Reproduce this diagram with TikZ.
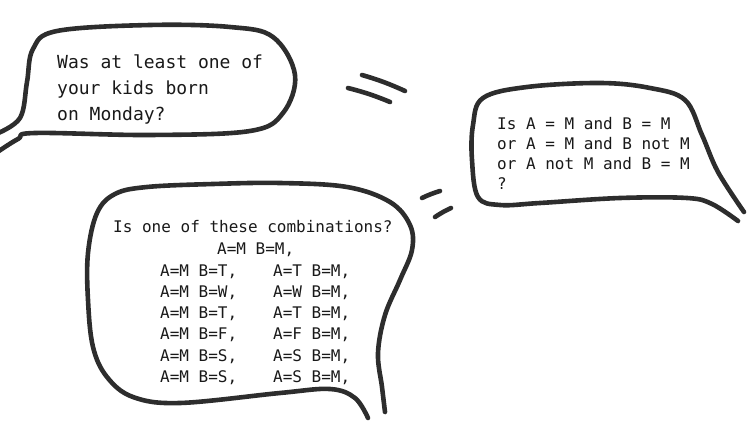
\documentclass[tikz,border=0pt]{standalone}
\usepackage{fontspec}
\setmonofont{DejaVu Sans Mono}

\definecolor{ink}{RGB}{45,45,45}
\definecolor{txt}{RGB}{25,25,25}

\begin{document}
\begin{tikzpicture}[
    x=1pt, y=-1pt,
    bubble/.style={draw=ink, line width=4.6pt, line cap=round, line join=round},
    tick/.style={draw=ink, line width=4.6pt, line cap=round},
    bigsay/.style={font=\ttfamily\fontsize{18}{26}\selectfont, text=txt, align=left, inner sep=0pt, anchor=base west},
    say/.style={font=\ttfamily\fontsize{16}{19.8}\selectfont, text=txt, align=left, inner sep=0pt, anchor=base west},
    row/.style={font=\ttfamily\fontsize{16}{21.2}\selectfont, text=txt, inner sep=0pt, anchor=base west},
]
\useasboundingbox (0,0) rectangle (750,422);

% Question bubble (top left)
\draw[bubble] plot[smooth, tension=0.6] coordinates {
  (-4,134) (20,118) (27,82) (33,49) (57,31) (150,25) (230,27) (273,37)
  (295,75) (283,113) (250,131) (150,135) (35,133) (18,139) (-4,153)};
% base anchor sits on the last line
\node[bigsay] (question) at (57,121) {Was at least one of\\your kids born\\on Monday?};

% "equals" marks
\draw[tick] (362,75) to[bend left=4] (405,91);
\draw[tick] (348,88) to[bend left=4] (390,102);
\draw[tick] (422,198) to[bend left=4] (440,191);
\draw[tick] (435,217) to[bend left=4] (451,208);

% Logic bubble (right)
\draw[bubble] plot[smooth, tension=0.6] coordinates {
  (738,221) (712,204) (687,198) (620,198) (540,203) (500,205) (478,197)
  (472,160) (473,125) (483,98) (527,87) (600,83) (650,88) (685,100)
  (702,135) (718,172) (744,212)};
\node[say] (logic) at (497,189.4) {Is A = M and B = M\\or A = M and B not M\\or A not M and B = M\\?};

% Combinations bubble (bottom)
\draw[bubble] plot[smooth, tension=0.6] coordinates {
  (368,418) (355,398) (330,389) (280,393) (180,403) (133,397) (107,377)
  (93,347) (88,300) (88,253) (97,213) (115,194) (147,187) (213,184)
  (280,183) (347,187) (390,202) (410,225) (412,250) (400,280) (385,315)
  (378,353) (382,387) (385,412)};
\node[row] (combos) at (113,233) {Is one of these combinations?};
\node[row] (both) at (217,255) {A=M B=M,};
\foreach \d [count=\i] in {T,W,T,F,S,S} {
  \node[row] (left\i) at (160,{255+21.2*\i}) {A=M B=\d,};
  \node[row] (right\i) at (273,{255+21.2*\i}) {A=\d{} B=M,};
}

\end{tikzpicture}
\end{document}
